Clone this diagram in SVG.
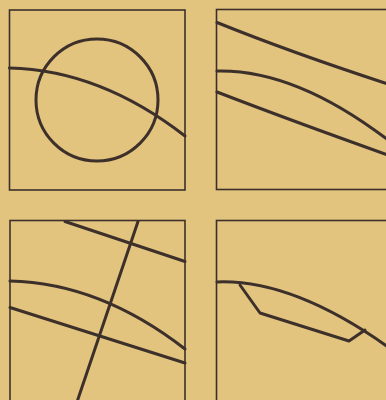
<svg xmlns="http://www.w3.org/2000/svg" width="386" height="400" viewBox="0 0 386 400">
<style>
.frame{fill:none;stroke:#3d302b;stroke-width:1.6}
.ln{fill:none;stroke:#3d302b;stroke-width:3;stroke-linecap:round;stroke-linejoin:round}
</style>
<rect width="386" height="400" fill="#e2c47f"/>
<g id="panel1">
<rect class="frame" x="9.5" y="10" width="175.5" height="180"/>
<circle class="ln" cx="97" cy="100" r="61"/>
<path class="ln" d="M9.5 68 Q100 70 185 136"/>
</g>
<g id="panel2">
<rect class="frame" x="216.5" y="9.5" width="180" height="180"/>
<path class="ln" d="M217 22.5 Q290 52 388 84"/>
<path class="ln" d="M217 71 Q295 69 388 140"/>
<path class="ln" d="M217 92 Q295 122 388 155"/>
</g>
<g id="panel3">
<rect class="frame" x="10" y="220.5" width="175" height="190"/>
<path class="ln" d="M65 221.5 L185 261.5"/>
<path class="ln" d="M138 221.5 L77 402"/>
<path class="ln" d="M10 281 Q100 283 185 349"/>
<path class="ln" d="M10 307.5 L185 363"/>
</g>
<g id="panel4">
<rect class="frame" x="216.5" y="220.5" width="180" height="190"/>
<path class="ln" d="M217 282 Q292 279 388 347"/>
<path class="ln" d="M240 285 L260 313 L349 341 L365 330"/>
</g>
</svg>
